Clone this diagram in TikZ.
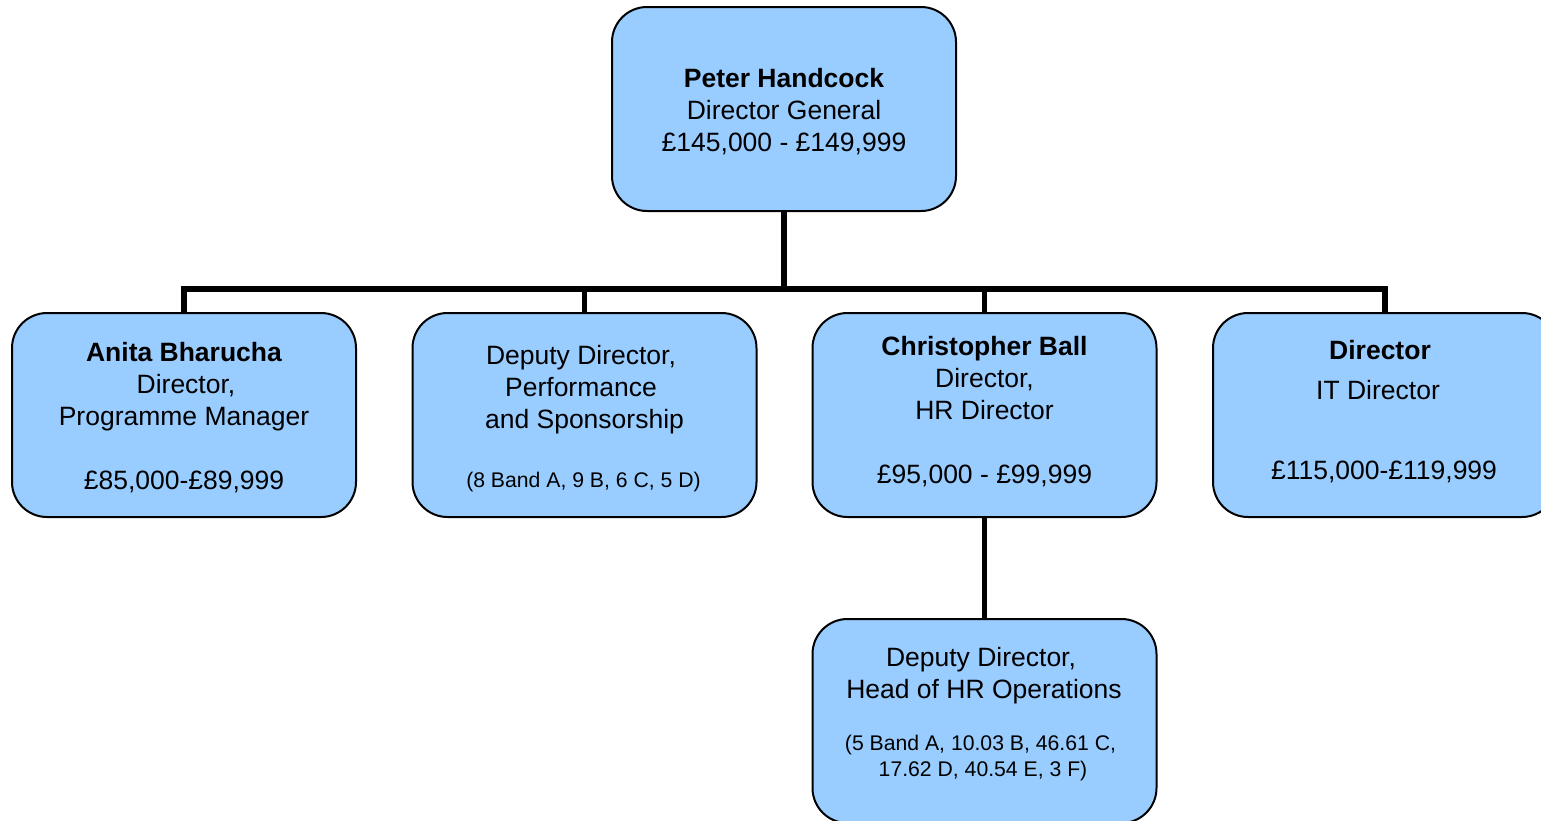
\documentclass[tikz,border=0pt]{standalone}
\usepackage{fontspec}
\setmainfont{Liberation Sans}
\definecolor{boxblue}{HTML}{99CCFF}
\tikzset{
  box/.style={draw=black, line width=2pt, fill=boxblue, rounded corners=35pt,
    minimum width=344pt, minimum height=204pt, inner sep=0pt, outer sep=0pt},
  conn/.style={draw=black, line width=5.5pt, line join=miter, line cap=butt},
  txt/.style={anchor=base, inner sep=0pt, font=\fontsize{26.5}{32}\selectfont},
  note/.style={anchor=base, inner sep=0pt, font=\fontsize{21.2}{25}\selectfont},
}
\begin{document}
\begin{tikzpicture}[x=1pt,y=-1pt]
\useasboundingbox (0,0) rectangle (1541,820);
\clip (0,0) rectangle (1541,820);
\fill[white] (0,0) rectangle (1541,820);

% boxes
\node[box] (top)   at (784,109)   {};
\node[box] (anita) at (184,415)   {};
\node[box] (perf)  at (584.5,415) {};
\node[box] (cball) at (984.5,415) {};
\node[box] (it)    at (1385,415)  {};
\node[box] (hrops) at (984.5,721) {};

% connectors
\coordinate (bus) at (784,289);
\draw[conn] (top.south) -- (bus);
\draw[conn] (anita.north) |- (bus) -| (it.north);
\draw[conn] (perf.north) -- (perf.north |- bus);
\draw[conn] (cball.north) -- (cball.north |- bus);
\draw[conn] (cball.south) -- (hrops.north);

% Director General
\node[txt] (top1) at (784,87.5)  {\bfseries Peter Handcock};
\node[txt] (top2) at (784,119.5) {Director General};
\node[txt] (top3) at (784,151.5) {£145,000 - £149,999};

% Programme Manager
\node[txt] (an1) at (184,361) {\bfseries Anita Bharucha};
\node[txt] (an2) at (186,393) {Director,};
\node[txt] (an3) at (184,425) {Programme Manager};
\node[txt] (an4) at (184,489) {£85,000-£89,999};

% Performance and Sponsorship
\node[txt]  (pf1) at (581,364.5) {Deputy Director,};
\node[txt]  (pf2) at (581,396.5) {Performance};
\node[txt]  (pf3) at (584.5,428.5) {and Sponsorship};
\node[note] (pf4) at (583.5,487.5) {(8 Band A, 9 B, 6 C, 5 D)};

% HR Director
\node[txt] (cb1) at (984.5,355.5) {\bfseries Christopher Ball};
\node[txt] (cb2) at (984.5,387.5) {Director,};
\node[txt] (cb3) at (984.5,419.5) {HR Director};
\node[txt] (cb4) at (984.5,483.5) {£95,000 - £99,999};

% IT Director
\node[txt] (it1) at (1380,359) {\bfseries Director};
\node[txt] (it2) at (1378,399) {IT Director};
\node[txt] (it3) at (1384,479) {£115,000-£119,999};

% Head of HR Operations
\node[txt]  (ho1) at (981,666)   {Deputy Director,};
\node[txt]  (ho2) at (984,698)   {Head of HR Operations};
\node[note] (ho3) at (980.5,750) {(5 Band A, 10.03 B, 46.61 C,};
\node[note] (ho4) at (983,776)   {17.62 D, 40.54 E, 3 F)};
\end{tikzpicture}
\end{document}
